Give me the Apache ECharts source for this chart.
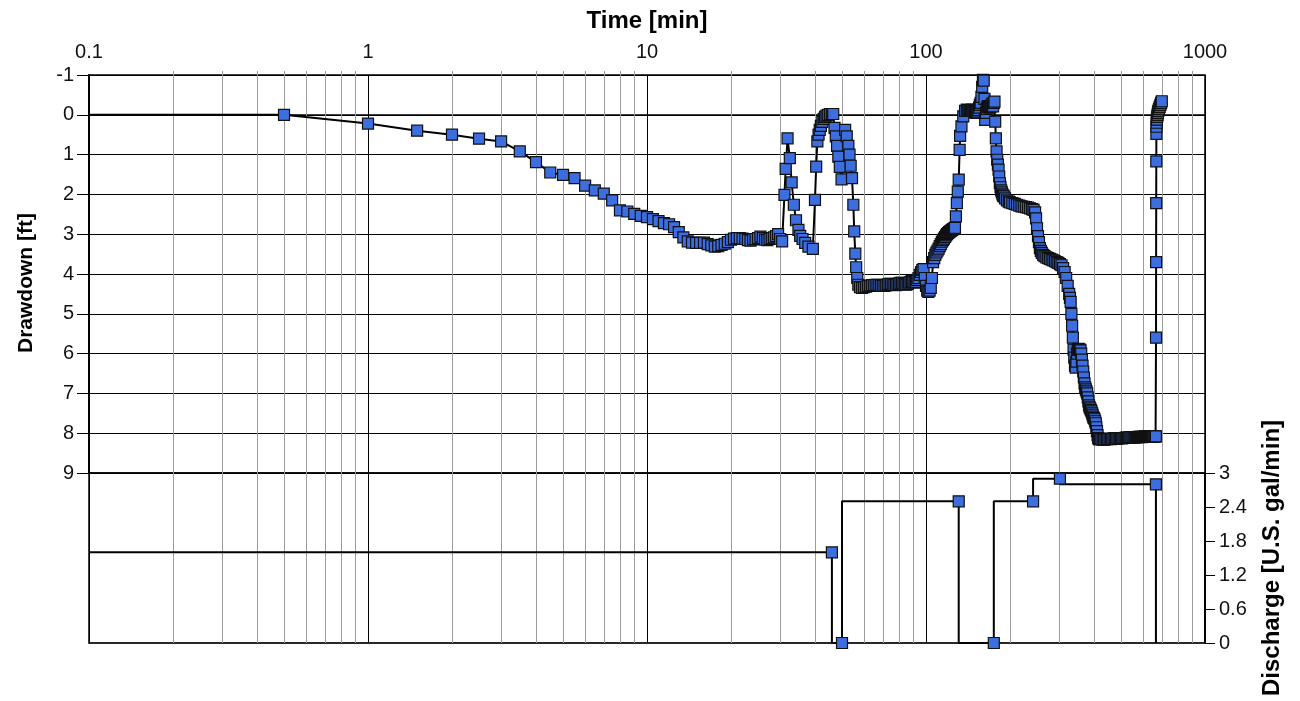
<!DOCTYPE html>
<html><head><meta charset="utf-8">
<script src="https://cdn.jsdelivr.net/npm/echarts@6/dist/echarts.min.js"></script>
<style>html,body{margin:0;padding:0;background:#fff}#c{width:1300px;height:701px}</style>
</head><body><div id="c"></div>
<script>
// ---------- data (time in min, drawdown in ft) ----------
const ddEarly = [[0.1,0],[0.5,0],[1,0.22],[1.5,0.4],[2,0.5],[2.5,0.6],[3,0.67],[3.5,0.92],[4,1.19],[4.5,1.45],[5,1.51],[5.5,1.59],[6,1.78],[6.5,1.9],[7,1.98],[7.5,2.15],[8,2.4],[8.5,2.43],[9,2.49],[9.5,2.54],[10,2.57],[10.5,2.62],[11,2.67],[11.5,2.72],[12,2.75],[12.5,2.82],[13,2.95],[13.5,3.08],[14,3.18]];
const ddPlateau1 = [[14.5,3.21],[15,3.22],[15.5,3.22],[16,3.21],[16.5,3.25],[17,3.28],[17.5,3.31],[18,3.3],[18.5,3.27],[19,3.24],[19.5,3.2],[20,3.14],[20.5,3.11],[21,3.1],[21.5,3.1],[22,3.11],[22.5,3.12],[23,3.15],[23.5,3.16],[24,3.13],[24.5,3.12],[25,3.1],[25.5,3.06],[26,3.1],[26.5,3.14],[27,3.15],[27.5,3.12],[28,3.1],[28.5,3.08],[29,3.05],[29.5,3.0],[30,3.12],[30.5,3.18]];
const ddSpikes = [[31.1,2.01],[31.4,1.36],[31.9,0.59],[32.5,1.09],[33.0,1.7],[33.6,2.26],[34.2,2.65],[34.9,2.89],[35.4,3.04],[36.1,3.12],[36.9,3.22],[37.9,3.31],[39.3,3.37],[40.0,2.14],[40.4,1.3],[40.8,0.67],[41.2,0.5],[41.6,0.38],[42.0,0.28],[42.5,0.18],[43.0,0.1],[43.5,0.05],[44.0,0.02],[44.6,0.0],[45.3,-0.02],[46.0,-0.02],[46.5,-0.02],[47.0,0.33],[47.5,0.54],[48.0,0.78],[48.5,1.05],[49.1,1.31],[49.8,1.62],[51.3,0.38],[52.0,0.54],[52.7,0.78],[53.2,1.0],[53.7,1.28],[54.3,1.59],[54.9,2.26],[55.3,2.93],[55.8,3.49],[56.2,3.83],[56.7,4.1],[57.2,4.27],[58,4.33]];
const ddPlateau2 = [[59,4.35],[60,4.33],[61,4.32],[62,4.3],[63,4.3],[64,4.28],[65,4.28],[66,4.27],[67,4.27],[68,4.28],[69,4.29],[70,4.3],[71,4.3],[72,4.28],[73,4.26],[74,4.25],[75,4.25],[76,4.26],[77,4.27],[78,4.28],[79,4.26],[80,4.24],[81,4.22],[82,4.22],[83,4.24],[84,4.26],[85,4.27],[86,4.25],[87,4.22],[88,4.2],[89,4.18],[90,4.2],[91,4.22],[92,4.2],[93,4.15],[94,4.1],[95,4.02],[96,3.95],[97,3.9],[98,3.88],[99,4.1],[100,4.3],[101,4.42],[102,4.45],[103,4.42]];
const ddRise = [[104,4.35],[105,4.1],[106,3.7],[107,3.6],[108,3.52],[109,3.46],[110,3.41],[111,3.36],[112,3.3],[113,3.25],[114,3.19],[115,3.15],[116,3.11],[117,3.07],[118,3.03],[119,3.0],[120,2.97],[121,2.95],[122,2.93],[123,2.91],[124,2.89],[125,2.87],[126,2.86],[127,2.84],[128,2.55],[129,2.22],[130,1.93],[131,1.63],[132,0.88],[132.5,0.53],[134,0.29],[136,0.04],[138,-0.1],[140,-0.13]];
const ddRecovery1 = [[141,-0.12],[142,-0.12],[143,-0.1],[144,-0.1],[145,-0.12],[146,-0.13],[147,-0.12],[148,-0.1],[149,-0.08],[150,-0.06],[151,-0.05],[152,-0.05],[153,-0.08],[154,-0.12],[155,-0.18],[156,-0.25],[157,-0.3],[158,-0.45],[159,-0.7],[160,-0.88],[161,-0.86],[162,-0.4],[163,0.13],[164,-0.05],[165,-0.15],[166,-0.2],[167,-0.22],[168,-0.2],[169,-0.18],[170,-0.2],[171,-0.22],[172,-0.25],[173,-0.28],[174,-0.21],[175,-0.3],[176,-0.33],[177,0.17],[178,0.59],[179,0.92],[180,1.13]];
const ddDecline = [[181,1.25],[182,1.38],[183,1.55],[184,1.72],[185,1.82],[186,1.9],[187,1.95],[188,2.0],[189,2.03],[190,2.05],[192,2.1],[195,2.15],[198,2.18],[200,2.2],[204,2.22],[208,2.24],[212,2.26],[216,2.28],[220,2.3],[224,2.31],[228,2.32],[232,2.33],[236,2.35],[240,2.37],[243,2.39],[246,2.45],[248,2.6],[250,2.85],[252,3.05],[254,3.2],[256,3.35],[258,3.42],[260,3.47],[263,3.52],[266,3.55],[270,3.58],[274,3.6],[278,3.62],[282,3.64],[286,3.66],[290,3.68],[294,3.7],[298,3.72],[302,3.75],[306,3.78],[310,3.85],[314,3.95],[318,4.1],[322,4.3],[326,4.5],[328,4.6],[330,4.7],[332,5.0],[334,5.3],[336,5.6],[338,5.9],[340,6.1],[342,6.3],[344,6.35],[346,6.2],[348,6.0],[350,5.9],[352,5.88],[354,5.9],[356,5.9],[358,5.92],[360,6.0],[362,6.15],[364,6.3],[366,6.45],[368,6.6],[370,6.75],[372,6.85],[374,6.9],[376,6.95],[378,7.0],[380,7.1],[382,7.2],[384,7.3],[386,7.35],[388,7.38],[390,7.42],[392,7.45],[394,7.5],[396,7.55],[398,7.6],[400,7.62],[402,7.65],[404,7.7],[406,7.75],[408,7.85],[410,7.95],[412,8.05],[414,8.12],[416,8.15],[418,8.15],[420,8.14]];
const ddPlateau3 = [[425,8.15],[430,8.16],[435,8.16],[440,8.15],[445,8.15],[450,8.14],[455,8.14],[460,8.15],[465,8.14],[470,8.13],[475,8.13],[480,8.14],[485,8.13],[490,8.13],[495,8.12],[500,8.12],[505,8.13],[510,8.12],[515,8.12],[520,8.11],[525,8.11],[530,8.12],[535,8.11],[540,8.11],[545,8.1],[550,8.1],[555,8.11],[560,8.1],[565,8.1],[570,8.1],[575,8.09],[580,8.1],[585,8.09],[590,8.09],[595,8.1],[600,8.09],[605,8.09],[610,8.08],[615,8.09],[620,8.08],[625,8.08],[630,8.09],[635,8.08],[640,8.08],[645,8.08],[650,8.08],[655,8.08],[660,8.08],[665,8.08]];
const ddRecovery2 = [[667,8.08],[667.5,5.6],[668,3.7],[668.5,2.22],[669,1.17],[669.5,0.48],[670,0.3],[671,0.2],[672,0.12],[674,0.05],[676,0.0],[678,-0.05],[680,-0.1],[684,-0.15],[688,-0.2],[692,-0.25],[696,-0.3],[700,-0.34]];

// discharge (U.S. gal/min), each marker ends an interval with that rate
const qTime = [0.1, 46, 50, 131, 175, 242, 302, 667, 667];
const qRate = [1.6, 1.6, 0, 2.5, 0, 2.5, 2.9, 2.8, 0];

// minor log gridlines
const minorTimes = [0.2,0.3,0.4,0.5,0.6,0.7,0.8,0.9,2,3,4,5,6,7,8,9,20,30,40,50,60,70,80,90,200,300,400,500,600,700,800,900];

// ---------- chart ----------
const FONT = '"Liberation Sans", Arial, Helvetica, sans-serif';
const BLUE = '#3c6ee0';
const ddAll = [].concat(ddEarly, ddPlateau1, ddSpikes, ddPlateau2, ddRise, ddRecovery1, ddDecline, ddPlateau3, ddRecovery2);
const ddData = ddAll.map((p, i) => i === 0 ? {value: p, symbol: 'none'} : p);
const qData = qTime.map((t, i) => (i === 0 || i === qTime.length - 1) ? {value: [t, qRate[i]], symbol: 'none'} : [t, qRate[i]]);

function minorRender(extendTop) {
  return function (params, api) {
    const cs = params.coordSys;
    const x = Math.round(api.coord([api.value(0), api.value(1)])[0]) + 0.5;
    return {type: 'line', silent: true,
      shape: {x1: x, y1: cs.y - extendTop, x2: x, y2: cs.y + cs.height},
      style: {stroke: '#9c9c9c', lineWidth: 1}};
  };
}

const chart = echarts.init(document.getElementById('c'), null, {renderer: 'canvas'});
const L = 89, R = 95;
chart.setOption({
  animation: false,
  backgroundColor: '#fff',
  textStyle: {fontFamily: FONT},
  grid: [
    {left: L, right: R, top: 75, height: 398, show: true, borderColor: '#000', borderWidth: 1.5, containLabel: false},
    {left: L, right: R, top: 473, height: 170, show: true, borderColor: '#000', borderWidth: 1.5, containLabel: false}
  ],
  xAxis: [
    {type: 'log', logBase: 10, min: 0.1, max: 1000, gridIndex: 0, position: 'top',
      name: 'Time [min]', nameLocation: 'middle', nameGap: 42,
      nameTextStyle: {fontSize: 24, fontWeight: 'bold', color: '#000', fontFamily: FONT},
      axisLine: {show: true, lineStyle: {color: '#000', width: 1.5}},
      axisTick: {show: true, length: 10, lineStyle: {color: '#000', width: 1}},
      axisLabel: {show: true, fontSize: 20, color: '#111', margin: 13, fontFamily: FONT,
        formatter: v => String(+(+v).toPrecision(6))},
      splitLine: {show: true, lineStyle: {color: '#000', width: 1}},
      minorTick: {show: false}, minorSplitLine: {show: false}},
    {type: 'log', logBase: 10, min: 0.1, max: 1000, gridIndex: 1, position: 'bottom',
      axisLine: {show: true, lineStyle: {color: '#222', width: 1.5}},
      axisTick: {show: false}, axisLabel: {show: false},
      splitLine: {show: true, lineStyle: {color: '#000', width: 1}}}
  ],
  yAxis: [
    {type: 'value', gridIndex: 0, inverse: true, min: -1, max: 9, interval: 1, position: 'left',
      name: 'Drawdown [ft]', nameLocation: 'middle', nameGap: 52,
      nameTextStyle: {fontSize: 21, fontWeight: 'bold', color: '#000', fontFamily: FONT, padding: [0, 18, 0, 0]},
      axisLine: {show: true, lineStyle: {color: '#000', width: 2}},
      axisTick: {show: true, length: 12, lineStyle: {color: '#000', width: 1}},
      axisLabel: {fontSize: 20, color: '#111', margin: 15, fontFamily: FONT},
      splitLine: {show: true, lineStyle: {color: '#000', width: 1}}},
    {type: 'value', gridIndex: 1, min: 0, max: 3, interval: 0.6, position: 'right',
      name: 'Discharge [U.S. gal/min]', nameLocation: 'middle', nameGap: 55,
      nameTextStyle: {fontSize: 24, fontWeight: 'bold', color: '#000', fontFamily: FONT},
      axisLine: {show: true, lineStyle: {color: '#000', width: 2}},
      axisTick: {show: true, length: 10, lineStyle: {color: '#000', width: 1}},
      axisLabel: {fontSize: 20, color: '#111', margin: 14, fontFamily: FONT,
        formatter: v => String(+(+v).toFixed(1))},
      splitLine: {show: false}}
  ],
  series: [
    {type: 'custom', xAxisIndex: 0, yAxisIndex: 0, z: 1, silent: true, clip: false,
      renderItem: minorRender(4), encode: {x: 0, y: 1},
      data: minorTimes.map(t => [t, 0])},
    {type: 'custom', xAxisIndex: 1, yAxisIndex: 1, z: 1, silent: true, clip: false,
      renderItem: minorRender(0), encode: {x: 0, y: 1},
      data: minorTimes.map(t => [t, 1])},
    {type: 'line', name: 'Drawdown', xAxisIndex: 0, yAxisIndex: 0, z: 5,
      data: ddData, symbol: 'rect', symbolSize: 11, showSymbol: true,
      lineStyle: {color: '#000', width: 2},
      itemStyle: {color: BLUE, borderColor: '#111', borderWidth: 1.2},
      clip: true},
    {type: 'line', name: 'Discharge', xAxisIndex: 1, yAxisIndex: 1, z: 5, step: 'start',
      data: qData, symbol: 'rect', symbolSize: 11, showSymbol: true,
      lineStyle: {color: '#000', width: 2},
      itemStyle: {color: BLUE, borderColor: '#111', borderWidth: 1.2},
      clip: true}
  ]
});
</script>
</body></html>
